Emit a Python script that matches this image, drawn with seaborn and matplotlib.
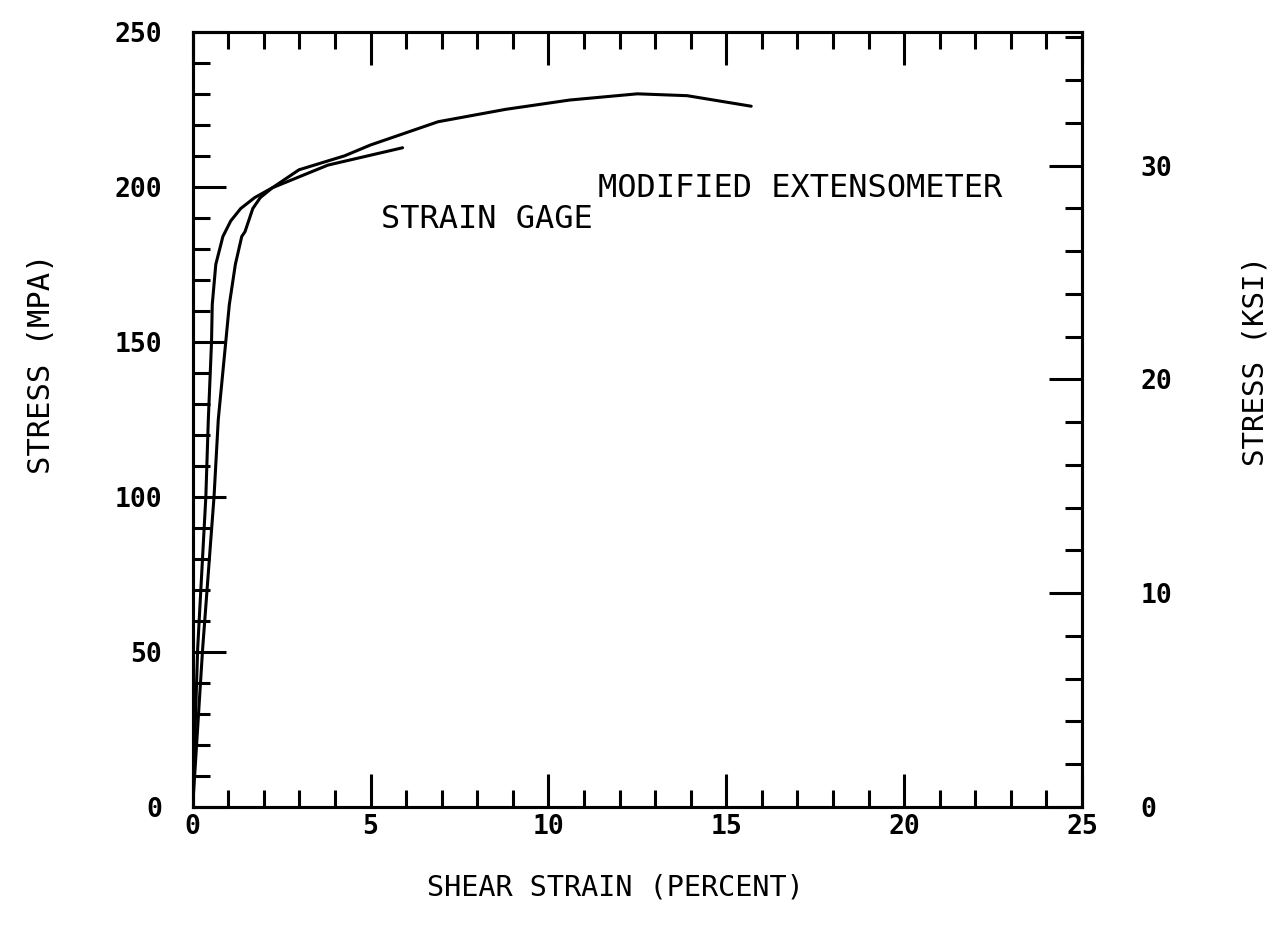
"""Shear stress-strain curves: strain gage vs modified extensometer."""
import matplotlib

matplotlib.use("Agg")
import matplotlib.pyplot as plt
import pandas as pd
import seaborn as sns
from matplotlib.ticker import MultipleLocator

# shear strain (percent) and stress (MPa)
gage_strain = [0, 0.14, 0.37, 0.44, 0.53, 0.55, 0.65, 0.85, 1.07, 1.35, 1.74, 2.24, 3.8, 5.9]
gage_stress = [0, 51, 100, 125, 150, 162, 175, 184, 189, 193, 196.5, 199.7, 207, 212.6]

ext_strain = [0, 0.28, 0.6, 0.72, 0.93, 1.03, 1.2, 1.38, 1.47, 1.69, 1.9, 2.24,
              2.99, 4.27, 5.0, 6.9, 8.8, 10.6, 12.5, 13.9, 15.7]
ext_stress = [0, 51, 100, 125, 150, 162, 175, 184, 185.5, 193, 196.5, 199.7,
              205.5, 210, 213.5, 221, 225, 228, 230, 229.4, 226]

MPA_PER_KSI = 6.894757

sns.set_theme(style="ticks")
plt.rcParams["font.family"] = ["DejaVu Sans Mono", "DejaVu Sans"]
plt.rcParams["text.color"] = "black"

gage = pd.DataFrame({"strain": gage_strain, "stress": gage_stress})
ext = pd.DataFrame({"strain": ext_strain, "stress": ext_stress})

fig = plt.figure(figsize=(12.76, 9.36), dpi=100)
ax = fig.add_axes([0.151, 0.138, 0.697, 0.828])

line_kw = dict(color="black", linewidth=2.2, sort=False, estimator=None, ax=ax)
sns.lineplot(data=gage, x="strain", y="stress", **line_kw)
sns.lineplot(data=ext, x="strain", y="stress", **line_kw)

ax.set_xlim(0, 25)
ax.set_ylim(0, 250)
ax.xaxis.set_major_locator(MultipleLocator(5))
ax.xaxis.set_minor_locator(MultipleLocator(1))
ax.yaxis.set_major_locator(MultipleLocator(50))
ax.yaxis.set_minor_locator(MultipleLocator(10))

for side in ax.spines.values():
    side.set_linewidth(2.2)
    side.set_color("black")

ax.tick_params(axis="both", which="both", direction="in", width=2.2, colors="black",
               top=True, right=False, labelsize=19)
ax.tick_params(which="major", length=24)
ax.tick_params(which="minor", length=12)
ax.tick_params(axis="y", pad=22)
ax.tick_params(axis="x", pad=5)
for lbl in ax.get_xticklabels() + ax.get_yticklabels():
    lbl.set_fontweight("bold")

ax.set_xlabel("SHEAR STRAIN (PERCENT)", fontsize=20.5, labelpad=24, color="black", x=0.475)
ax.set_ylabel("STRESS (MPA)", fontsize=22, labelpad=42, color="black", y=0.572)

# secondary stress axis in ksi
ax2 = ax.twinx()
ax2.set_ylim(0, 250 / MPA_PER_KSI)
ax2.yaxis.set_major_locator(MultipleLocator(10))
ax2.yaxis.set_minor_locator(MultipleLocator(2))
ax2.tick_params(axis="y", which="both", direction="in", width=2.2, colors="black",
                labelsize=19, pad=42)
ax2.tick_params(which="major", length=24)
ax2.tick_params(which="minor", length=12)
for lbl in ax2.get_yticklabels():
    lbl.set_fontweight("bold")
for side in ax2.spines.values():
    side.set_linewidth(2.2)
    side.set_color("black")
ax2.set_ylabel("STRESS (KSI)", fontsize=21, labelpad=50, color="black", y=0.575)

ax.text(11.4, 199.5, "MODIFIED EXTENSOMETER", fontsize=23, va="center", ha="left",
        color="black")
ax.text(5.3, 189.5, "STRAIN GAGE", fontsize=23, va="center", ha="left", color="black")

fig.savefig("out.png", dpi=100)
plt.close(fig)
